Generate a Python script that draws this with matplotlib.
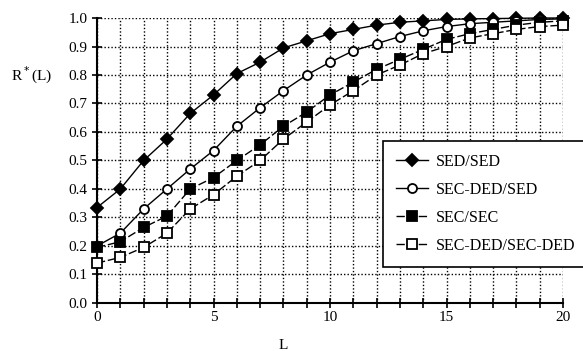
import numpy as np
from matplotlib import pyplot as plt

plt.rcParams["font.family"] = ["Liberation Serif", "DejaVu Serif"]

# Values
L = list(range(21))
sed_sed = [0.335, 0.40, 0.50, 0.575, 0.665, 0.73, 0.805, 0.845, 0.895, 0.92,
           0.945, 0.96, 0.975, 0.985, 0.99, 0.995, 0.997, 0.998, 0.999, 1.0, 1.0]
secded_sed = [0.20, 0.245, 0.33, 0.40, 0.47, 0.535, 0.62, 0.685, 0.745, 0.80,
              0.845, 0.885, 0.91, 0.935, 0.955, 0.97, 0.98, 0.985, 0.99, 0.995, 0.997]
sec_sec = [0.195, 0.215, 0.265, 0.305, 0.40, 0.44, 0.50, 0.555, 0.62, 0.67,
           0.73, 0.775, 0.82, 0.855, 0.89, 0.925, 0.945, 0.96, 0.975, 0.985, 0.99]
secded_secded = [0.14, 0.16, 0.195, 0.245, 0.33, 0.38, 0.445, 0.50, 0.575, 0.635,
                 0.695, 0.745, 0.80, 0.835, 0.875, 0.90, 0.93, 0.945, 0.96, 0.97, 0.975]

SERIES = [
    ("SED/SED", sed_sed, "D", "black", "-"),
    ("SEC-DED/SED", secded_sed, "o", "white", "-"),
    ("SEC/SEC", sec_sec, "s", "black", (0, (6, 2))),
    ("SEC-DED/SEC-DED", secded_secded, "s", "white", (0, (6, 2))),
]

fig = plt.figure(figsize=(5.83, 3.51), dpi=100)
ax = fig.add_axes([0.1664, 0.1368, 0.7993, 0.8119])

handles = []
for name, vals, marker, face, ls in SERIES:
    h, = ax.plot(L, vals, linestyle=ls, color="black", linewidth=1.0,
                 marker=marker, markersize=6.5 if marker != "D" else 6,
                 markerfacecolor=face, markeredgecolor="black",
                 markeredgewidth=1.3, label=name, clip_on=False, zorder=3)
    handles.append(h)

ax.set_xlim(0, 20)
ax.set_ylim(0, 1.0)
ax.set_xticks(range(21))
ax.set_xticklabels([str(i) if i % 5 == 0 else "" for i in range(21)])
ax.set_yticks(np.arange(0, 1.01, 0.1))
ax.set_yticklabels([f"{v:.1f}" for v in np.arange(0, 1.01, 0.1)])
ax.tick_params(direction="inout", length=7, width=1.2, labelsize=11, colors="black")
ax.tick_params(axis="x", pad=2)

ax.grid(True, color="black", linestyle=(0, (1, 1.5)), linewidth=1.0)
ax.set_axisbelow(True)
for side in ("top", "right"):
    ax.spines[side].set_visible(False)
for side in ("left", "bottom"):
    ax.spines[side].set_linewidth(1.5)

ax.set_xlabel("L", fontsize=11)
ax.xaxis.set_label_coords(0.4, -0.125)
ax.set_ylabel("R$^*$(L)", fontsize=11, rotation=0, va="center", ha="center")
ax.yaxis.set_label_coords(-0.14, 0.8)

leg = ax.legend(handles=handles, loc="upper left", bbox_to_anchor=(0.614, 0.568),
                borderaxespad=0, frameon=True, fancybox=False, edgecolor="black",
                framealpha=1, fontsize=11.5, handlelength=2.0, handletextpad=0.5,
                labelspacing=0.75, borderpad=0.8)
leg.get_frame().set_linewidth(1.2)
leg.set_zorder(5)

fig.savefig("out.png", dpi=100)
